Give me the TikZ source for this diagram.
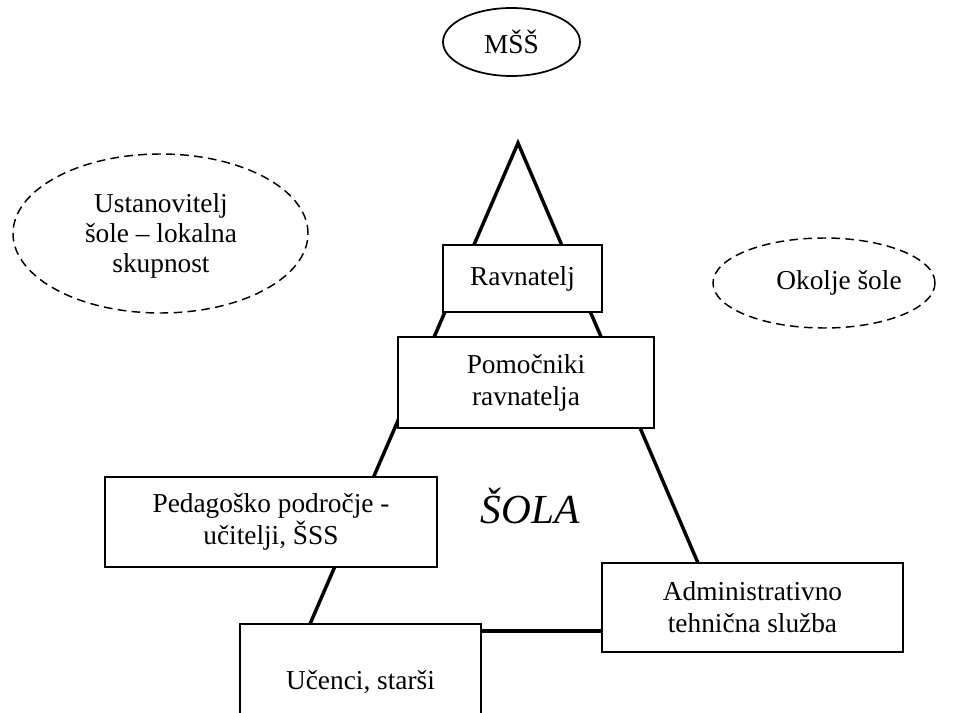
\documentclass[tikz,border=0pt]{standalone}
\usepackage{fontspec}
\setmainfont{Liberation Serif}
\usetikzlibrary{shapes.geometric}

\begin{document}
\begin{tikzpicture}[x=0.75pt,y=-0.75pt,
  every node/.style={font=\fontsize{20.5}{24}\selectfont},
  box/.style={draw,line width=1.2pt,fill=white,align=center,inner sep=0pt},
  solidoval/.style={draw,ellipse,line width=1.3pt,inner sep=0pt},
  dashoval/.style={draw,ellipse,line width=1.1pt,inner sep=0pt,
    dash pattern=on 6.5pt off 4pt},
  frame/.style={line width=2.6pt}]

\useasboundingbox (0,0) rectangle (954,713);
\clip (0,0) rectangle (954,713);

% outer bodies
\node[solidoval,minimum width=102.75pt,minimum height=51pt] (mss) at (511.5,42) {MŠŠ};
\node[dashoval,minimum width=221.25pt,minimum height=119.25pt] (ust) at (160.5,233.5) {};
\node[align=center,font=\fontsize{20.5}{22.5}\selectfont] (usttxt) at (161,236)
  {Ustanovitelj\\šole – lokalna\\skupnost};
\node[dashoval,minimum width=166.5pt,minimum height=67.5pt] (okolje) at (824,283) {};
\node (okoljetxt) at (839,283) {Okolje šole};

% sides of the school triangle
\coordinate (apex) at (518,143);
\coordinate (leftfoot) at (310,624);
\coordinate (rightfoot) at (698,563);
\draw[frame] (leftfoot) -- (apex) -- (rightfoot);

% units of the school
\node[box,minimum width=119.25pt,minimum height=50.25pt] (rav) at (522.5,278.5) {Ravnatelj};
\node[box,minimum width=192pt,minimum height=68.25pt] (pom) at (526,382.5) {Pomočniki\\ravnatelja};
\node[box,minimum width=249pt,minimum height=67.5pt] (ped) at (271,522) {Pedagoško področje -\\učitelji, ŠSS};
\node[box,minimum width=180.75pt,minimum height=87pt] (uce) at (360.5,682) {Učenci, starši};
\node[box,minimum width=225.75pt,minimum height=66.75pt] (adm) at (752.5,607.5) {Administrativno\\tehnična služba};

\node[font=\fontsize{31}{34}\selectfont\itshape] (sola) at (530,506) {ŠOLA};

% link between pupils and administration
\coordinate (lnk) at (0,631);
\draw[frame] (uce.east |- lnk) -- (adm.west |- lnk);

\end{tikzpicture}
\end{document}
